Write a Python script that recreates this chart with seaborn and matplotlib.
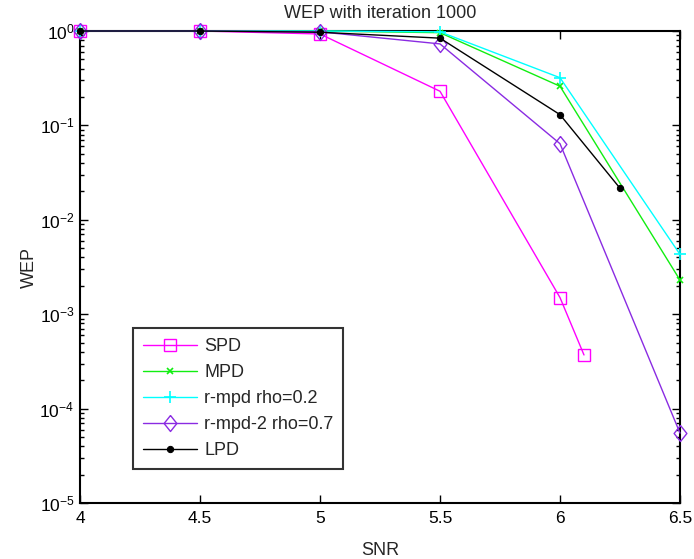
import numpy as np
import pandas as pd
import matplotlib
matplotlib.use("Agg")
import matplotlib.pyplot as plt
import matplotlib.ticker as mticker
import seaborn as sns

# ---- data ----
snr_spd = [4.0, 4.5, 5.0, 5.5, 6.0, 6.1]
wep_spd = [1.0, 1.0, 0.93, 0.23, 1.5e-3, 3.7e-4]

snr_mpd = [4.0, 4.5, 5.0, 5.5, 6.0, 6.5]
wep_mpd = [1.0, 1.0, 1.0, 0.96, 0.26, 2.3e-3]

snr_rmpd = [4.0, 4.5, 5.0, 5.5, 6.0, 6.5]
wep_rmpd = [1.0, 1.0, 1.0, 0.98, 0.32, 4.3e-3]

snr_rmpd2 = [4.0, 4.5, 5.0, 5.5, 6.0, 6.5]
wep_rmpd2 = [1.0, 1.0, 0.98, 0.73, 0.064, 5.5e-5]

snr_lpd = [4.0, 4.5, 5.0, 5.5, 6.0, 6.25]
wep_lpd = [1.0, 1.0, 0.97, 0.84, 0.13, 0.0216]

labels = ["SPD", "MPD", "r-mpd rho=0.2", "r-mpd-2 rho=0.7", "LPD"]
x_ticks = [4, 4.5, 5, 5.5, 6, 6.5]

sns.set_style("ticks")
plt.rcParams["font.family"] = ["Liberation Sans", "DejaVu Sans"]
plt.rcParams["mathtext.fontset"] = "custom"
plt.rcParams["mathtext.rm"] = "Liberation Sans"
plt.rcParams["mathtext.it"] = "Liberation Sans"
plt.rcParams["mathtext.default"] = "regular"

fig = plt.figure(figsize=(6.94, 5.59), dpi=100)
ax = fig.add_axes([80 / 694, 56 / 559, 600 / 694, 472 / 559])

diamond = [(0, 1), (0.8, 0), (0, -1), (-0.8, 0), (0, 1)]

series = [
    (snr_spd, wep_spd, "#ff00ff", dict(marker="s", markersize=8, markerfacecolor="none", markeredgewidth=1.0)),
    (snr_mpd, wep_mpd, "#11ee11", dict(marker="x", markersize=5, markeredgewidth=1.2)),
    (snr_rmpd, wep_rmpd, "#00ffff", dict(marker="+", markersize=9, markeredgewidth=1.2)),
    (snr_rmpd2, wep_rmpd2, "#8a2be2", dict(marker=diamond, markersize=11.5, markerfacecolor="none", markeredgewidth=1.0)),
    (snr_lpd, wep_lpd, "#000000", dict(marker="o", markersize=4.5, markerfacecolor="#000000")),
]

for (xs, ys, col, mk), lab in zip(series, labels):
    df = pd.DataFrame({"SNR": xs, "WEP": ys})
    sns.lineplot(data=df, x="SNR", y="WEP", ax=ax, color=col, label=lab,
                 linewidth=1.0, sort=False, clip_on=False, zorder=3,
                 markeredgecolor=col, **mk)

ax.set_yscale("log")
ax.set_xlim(4, 6.5)
ax.set_ylim(1e-5, 1)
ax.set_xticks(x_ticks)
ax.set_xticklabels([("%g" % t) for t in x_ticks])
ax.yaxis.set_major_locator(mticker.LogLocator(base=10, numticks=10))
ax.yaxis.set_minor_locator(mticker.LogLocator(base=10, subs=np.arange(2, 10), numticks=20))
ax.yaxis.set_minor_formatter(mticker.NullFormatter())

ax.tick_params(axis="both", which="both", direction="in", top=True, right=True,
               labelsize=12.5, colors="black")
ax.tick_params(axis="both", which="major", length=6, width=1.0, pad=6)
ax.tick_params(axis="y", which="major", pad=4)
ax.tick_params(axis="y", which="minor", length=3, width=1.0)
for s in ax.spines.values():
    s.set_linewidth(1.5)
    s.set_color("black")

ax.set_title("WEP with iteration 1000", fontsize=13, pad=9)
ax.set_xlabel("SNR", fontsize=13, labelpad=11)
ax.set_ylabel("WEP", fontsize=13)
ax.yaxis.set_label_coords(-0.07, 0.5)

leg = ax.legend(loc="lower left", bbox_to_anchor=(0.088, 0.072), borderaxespad=0,
                fontsize=13, frameon=True, fancybox=False, handlelength=3.0,
                handletextpad=0.4, labelspacing=0.5, borderpad=0.55)
leg.get_frame().set_edgecolor("black")
leg.get_frame().set_linewidth(1.5)

fig.savefig("out.png", dpi=100, facecolor="white")
